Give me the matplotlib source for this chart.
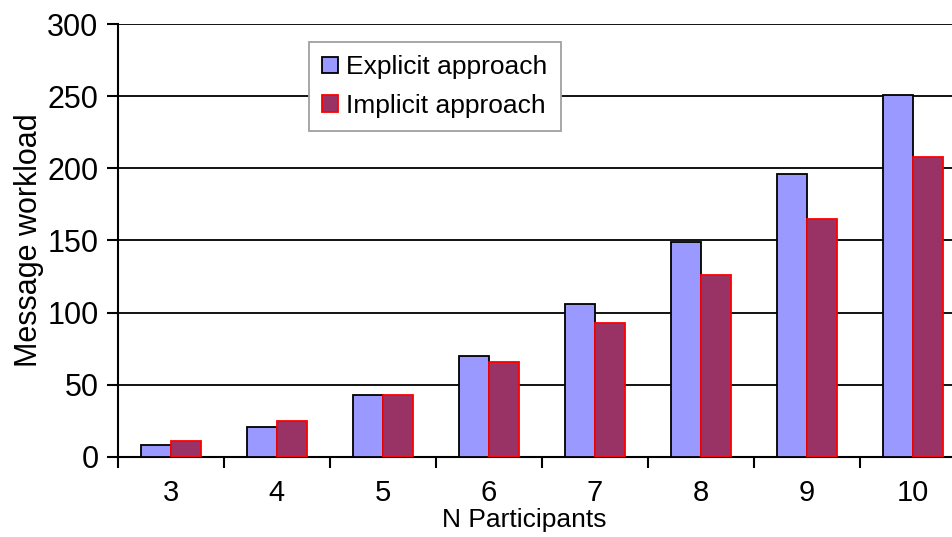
import numpy as np
import matplotlib as mpl
mpl.use('Agg')  # no display
import matplotlib.pyplot as plt
from matplotlib.ticker import FixedLocator

# data
participants = ['3', '4', '5', '6', '7', '8', '9', '10']
explicit = [8, 21, 43, 70, 106, 149, 196, 251]
implicit = [11, 25, 43, 66, 93, 126, 165, 208]

plt.rcParams['font.family'] = ['Liberation Sans', 'DejaVu Sans']

fig = plt.figure(figsize=(9.53, 5.37), dpi=100)
ax = fig.add_axes([0.1238, 0.149, 1.0 - 0.1238, 0.9553 - 0.149])

x = np.arange(len(participants))
w = 0.283
ax.bar(x - w / 2, explicit, w, color='#9999FF', edgecolor='black', lw=1.3,
       label='Explicit approach', zorder=3)
ax.bar(x + w / 2, implicit, w, color='#993366', edgecolor='red', lw=1.3,
       label='Implicit approach', zorder=3)

ax.set_ylim(0, 300)
ax.set_xlim(-0.5, 7.38)
ax.set_yticks(range(0, 301, 50))
ax.yaxis.grid(True, color='black', lw=1.3, zorder=0)
ax.set_axisbelow(True)

ax.set_xticks(x)
ax.set_xticklabels(participants)
ax.xaxis.set_minor_locator(FixedLocator(np.arange(-0.5, 8, 1.0)))
ax.tick_params(axis='x', which='major', length=0, pad=16, labelsize=21)
ax.tick_params(axis='x', which='minor', length=8, width=1.5, direction='out')
ax.tick_params(axis='y', length=8, width=1.5, pad=6, labelsize=22)

for s in ['top', 'right']:
    ax.spines[s].set_visible(False)
ax.spines['left'].set_linewidth(1.5)
ax.spines['bottom'].set_linewidth(1.5)

ax.set_ylabel('Message workload', fontsize=22)
ax.yaxis.set_label_coords(-0.088, 0.5)
ax.set_xlabel('N Participants', fontsize=19)
ax.xaxis.set_label_coords((524 - 118) / 835.0, -(508 - 457) / 433.0)

leg = ax.legend(loc='upper left', bbox_to_anchor=(0.229, 0.958),
                borderaxespad=0, fancybox=False, fontsize=19,
                handlelength=0.6, handleheight=0.6, handletextpad=0.3,
                labelspacing=0.55, borderpad=0.5)
leg.get_frame().set_edgecolor('#a0a0a0')
leg.get_frame().set_linewidth(1.3)
leg.get_frame().set_alpha(1)

plt.savefig('out.png', dpi=100)
